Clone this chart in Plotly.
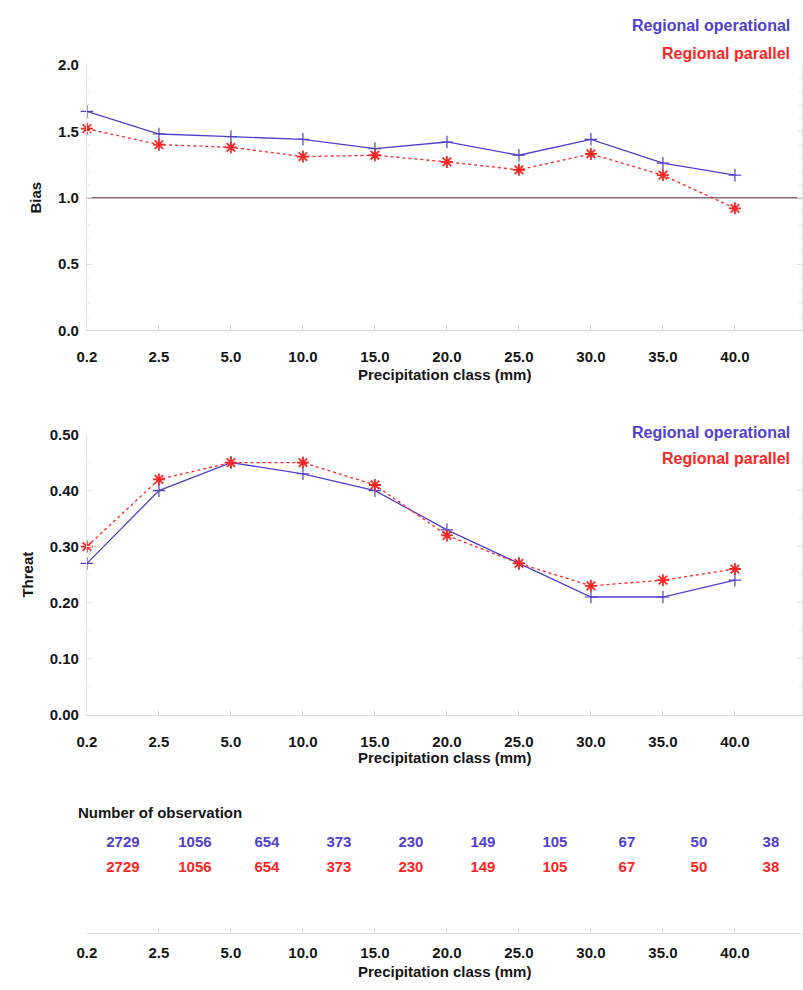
import plotly.graph_objects as go

# ---- data ----
classes = ["0.2", "2.5", "5.0", "10.0", "15.0", "20.0", "25.0", "30.0", "35.0", "40.0"]
bias_operational = [1.65, 1.48, 1.46, 1.44, 1.37, 1.42, 1.32, 1.44, 1.26, 1.17]
bias_parallel = [1.52, 1.40, 1.38, 1.31, 1.32, 1.27, 1.21, 1.33, 1.17, 0.92]
threat_operational = [0.27, 0.40, 0.45, 0.43, 0.40, 0.33, 0.27, 0.21, 0.21, 0.24]
threat_parallel = [0.30, 0.42, 0.45, 0.45, 0.41, 0.32, 0.27, 0.23, 0.24, 0.26]
obs_operational = [2729, 1056, 654, 373, 230, 149, 105, 67, 50, 38]
obs_parallel = [2729, 1056, 654, 373, 230, 149, 105, 67, 50, 38]
bias_ticks = [0.0, 0.5, 1.0, 1.5, 2.0]
threat_ticks = [0.0, 0.1, 0.2, 0.3, 0.4, 0.5]

BLUE = "#5040d0"
RED = "#ff2525"
FONT = "Liberation Sans"
idx = list(range(len(classes)))

W, H = 803, 990

def px(p):
    return p / W

def py(p):
    return 1 - p / H

X_MAX = (W - 78) / 73.0

fig = go.Figure()

def add_lines(xa, ya, op, par):
    fig.add_trace(go.Scatter(
        x=idx, y=op, xaxis=xa, yaxis=ya, mode="lines+markers",
        line=dict(color=BLUE, width=1.3),
        marker=dict(symbol="cross-thin", size=9, line=dict(color=BLUE, width=1.2)),
        cliponaxis=False, showlegend=False))
    fig.add_trace(go.Scatter(
        x=idx, y=par, xaxis=xa, yaxis=ya, mode="lines+markers",
        line=dict(color=RED, width=1.3, dash="dot"),
        marker=dict(symbol="asterisk-open", size=10, line=dict(color=RED, width=1.8)),
        cliponaxis=False, showlegend=False))

# reference line Bias = 1
fig.add_trace(go.Scatter(x=[0, X_MAX], y=[1.0, 1.0], xaxis="x", yaxis="y", mode="lines",
                         line=dict(color="#8a6a70", width=1.5), showlegend=False, hoverinfo="skip"))
add_lines("x", "y", bias_operational, bias_parallel)
add_lines("x2", "y2", threat_operational, threat_parallel)

# number of observations table
fig.add_trace(go.Scatter(
    x=[i + 0.5 for i in idx], y=[0.61] * len(idx), xaxis="x3", yaxis="y3", mode="text",
    text=[str(v) for v in obs_operational],
    textfont=dict(family=FONT, size=15, color=BLUE, weight="bold"),
    cliponaxis=False, showlegend=False))
fig.add_trace(go.Scatter(
    x=[i + 0.5 for i in idx], y=[0.44] * len(idx), xaxis="x3", yaxis="y3", mode="text",
    text=[str(v) for v in obs_parallel],
    textfont=dict(family=FONT, size=15, color=RED, weight="bold"),
    cliponaxis=False, showlegend=False))

tickfont = dict(family=FONT, size=15, color="#151515", weight="bold")
titlefont = dict(family=FONT, size=15, color="#151515", weight="bold")
xdom = [px(78), 1.0]

def xaxis(anchor, standoff):
    return dict(
        domain=xdom, anchor=anchor, range=[0, X_MAX],
        tickmode="array", tickvals=idx, ticktext=classes,
        tickfont=tickfont, ticks="inside", ticklen=5, tickcolor="#d8d8d8",
        ticklabelstandoff=standoff,
        showline=True, linecolor="#dcdcdc", linewidth=1,
        showgrid=False, zeroline=False,
    )

def yaxis(anchor, rng, ticks, fmt, title, dom):
    return dict(
        domain=dom, anchor=anchor, range=rng,
        tickmode="array", tickvals=ticks, ticktext=[fmt.format(t) for t in ticks],
        tickfont=tickfont, ticks="inside", ticklen=5, tickcolor="#e0e0e0",
        minor=dict(ticks="inside", ticklen=3, tickcolor="#e8e8e8", nticks=5),
        ticklabelstandoff=4, mirror="ticks",
        showline=True, linecolor="#e4e4e4", linewidth=1,
        showgrid=False, zeroline=False,
        title=dict(text=title, font=titlefont, standoff=12),
    )

fig.update_layout(
    width=W, height=H,
    margin=dict(l=0, r=0, t=0, b=0),
    paper_bgcolor="white", plot_bgcolor="white",
    xaxis=xaxis("y", 13),
    yaxis=yaxis("x", [0, 2.0], bias_ticks, "{:.1f}", "Bias", [py(327), py(57)]),
    xaxis2=xaxis("y2", 13),
    yaxis2=yaxis("x2", [0, 0.5], threat_ticks, "{:.2f}", "Threat", [py(718), py(433)]),
    xaxis3=xaxis("y3", 6),
    yaxis3=dict(domain=[py(940), py(790)], anchor="x3", range=[0, 1], visible=False),
)

ann = []
for ytop, txt, col in [(17, "Regional operational", BLUE), (45, "Regional parallel", RED),
                        (431, "Regional operational", BLUE), (457, "Regional parallel", RED)]:
    ann.append(dict(text=txt, x=px(793), y=py(ytop), xref="paper", yref="paper",
                    xanchor="right", yanchor="middle", showarrow=False,
                    font=dict(family=FONT, size=16, color=col, weight="bold")))
ann.append(dict(text="Number of observation", x=px(67), y=py(818), xref="paper", yref="paper",
                xanchor="left", yanchor="middle", showarrow=False,
                font=dict(family=FONT, size=15, color="#151515", weight="bold")))
for ty in (372, 762, 979):
    ann.append(dict(text="Precipitation class (mm)", x=px(441), y=py(ty), xref="paper", yref="paper",
                    xanchor="center", yanchor="middle", showarrow=False, font=titlefont))
fig.update_layout(annotations=ann)

fig.write_html(
    "out.html",
    config={"displayModeBar": False},
    post_script="document.body.style.margin='0';document.body.style.padding='0';"
                "document.documentElement.style.overflow='hidden';document.body.style.overflow='hidden';",
)
